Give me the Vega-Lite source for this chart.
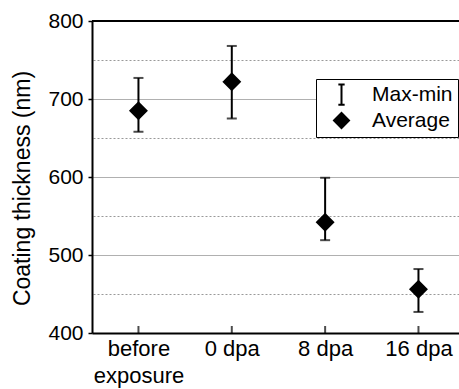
{
  "$schema": "https://vega.github.io/schema/vega-lite/v6.json",
  "width": 367,
  "height": 312,
  "autosize": {"type": "none"},
  "padding": {"left": 92, "top": 21, "right": 0, "bottom": 56},
  "background": "white",
  "config": {"view": {"stroke": null}, "font": "Liberation Sans"},
  "data": {
    "values": [
      {"stage": "before exposure", "avg": 685, "min": 658, "max": 727},
      {"stage": "0 dpa", "avg": 722, "min": 675, "max": 768},
      {"stage": "8 dpa", "avg": 542, "min": 519, "max": 599},
      {"stage": "16 dpa", "avg": 456, "min": 427, "max": 482}
    ]
  },
  "layer": [
    {
      "encoding": {
        "x": {
          "field": "stage",
          "type": "ordinal",
          "sort": ["before exposure", "0 dpa", "8 dpa", "16 dpa"],
          "scale": {"type": "point", "padding": 0.466, "align": 0.534},
          "axis": {
            "title": null,
            "labelAngle": 0,
            "labelFontSize": 22,
            "labelColor": "black",
            "labelPadding": 5,
            "labelLineHeight": 27,
            "labelExpr": "datum.value == 'before exposure' ? ['before', 'exposure'] : datum.value",
            "domainColor": "black",
            "domainWidth": 2,
            "ticks": false,
            "grid": false
          }
        }
      },
      "layer": [
        {
          "mark": {"type": "rule", "color": "black", "strokeWidth": 2},
          "encoding": {
            "y": {
              "field": "min",
              "type": "quantitative",
              "scale": {"domain": [400, 800], "nice": false, "zero": false},
              "axis": {
                "values": [400, 500, 600, 700, 800],
                "title": "Coating thickness (nm)",
                "titleFontSize": 23,
                "titleFontWeight": "normal",
                "titleColor": "black",
                "titlePadding": 13,
                "titleY": 167,
                "labelFontSize": 21,
                "labelColor": "black",
                "labelPadding": 5,
                "domainColor": "black",
                "domainWidth": 2,
                "tickColor": "black",
                "tickWidth": 1.5,
                "tickSize": 4,
                "grid": true,
                "gridColor": "#b0b0b0",
                "gridWidth": 1
              }
            },
            "y2": {"field": "max"}
          }
        },
        {
          "mark": {"type": "tick", "color": "black", "thickness": 2, "size": 10, "orient": "horizontal"},
          "encoding": {
            "y": {
              "field": "max",
              "type": "quantitative",
              "axis": {
                "orient": "right",
                "values": [450, 550, 650, 750],
                "labels": false,
                "ticks": false,
                "domain": false,
                "title": null,
                "grid": true,
                "gridColor": "#999999",
                "gridDash": [2, 2],
                "gridWidth": 1
              }
            }
          }
        },
        {
          "mark": {"type": "tick", "color": "black", "thickness": 2, "size": 10, "orient": "horizontal"},
          "encoding": {
            "y": {"field": "min", "type": "quantitative", "axis": null}
          }
        },
        {
          "mark": {"type": "tick", "color": "black", "thickness": 2, "size": 7, "orient": "vertical", "yOffset": -3.5},
          "encoding": {
            "y": {"datum": 400, "type": "quantitative", "axis": null}
          }
        },
        {
          "mark": {"type": "point", "filled": false, "fill": "black", "stroke": "black", "strokeWidth": 2, "size": 260, "opacity": 1, "clip": true},
          "encoding": {
            "y": {"datum": 300, "type": "quantitative", "axis": null},
            "shape": {"datum": "Max-min"}
          }
        },
        {
          "mark": {"type": "point", "filled": false, "fill": "black", "stroke": "black", "strokeWidth": 2, "size": 260, "opacity": 1},
          "encoding": {
            "y": {"field": "avg", "type": "quantitative", "axis": null},
            "shape": {
              "datum": "Average",
              "scale": {
                "domain": ["Max-min", "Average"],
                "range": ["M -0.42 -1.35 L 0.42 -1.35 M 0 -1.35 L 0 1.35 M -0.42 1.35 L 0.42 1.35", "diamond"]
              },
              "legend": {
                "title": null,
                "orient": "none",
                "legendX": 224,
                "legendY": 58,
                "strokeColor": "black",
                "fillColor": "white",
                "padding": 5,
                "rowPadding": 0,
                "symbolSize": 225,
                "symbolOffset": 10,
                "labelOffset": 20,
                "labelFontSize": 21,
                "labelColor": "black",
                "symbolStrokeColor": "black",
                "symbolStrokeWidth": 2,
                "symbolFillColor": "black",
                "encode": {
                  "symbols": {
                    "stroke": {"value": "black"},
                    "strokeWidth": {"value": 2}
                  }
                }
              }
            }
          }
        }
      ],
      "resolve": {"axis": {"y": "independent"}}
    },
    {
      "mark": {"type": "rule", "color": "black", "strokeWidth": 2},
      "encoding": {"y": {"datum": 800, "type": "quantitative", "axis": null}}
    }
  ],
  "resolve": {"axis": {"y": "independent"}}
}
